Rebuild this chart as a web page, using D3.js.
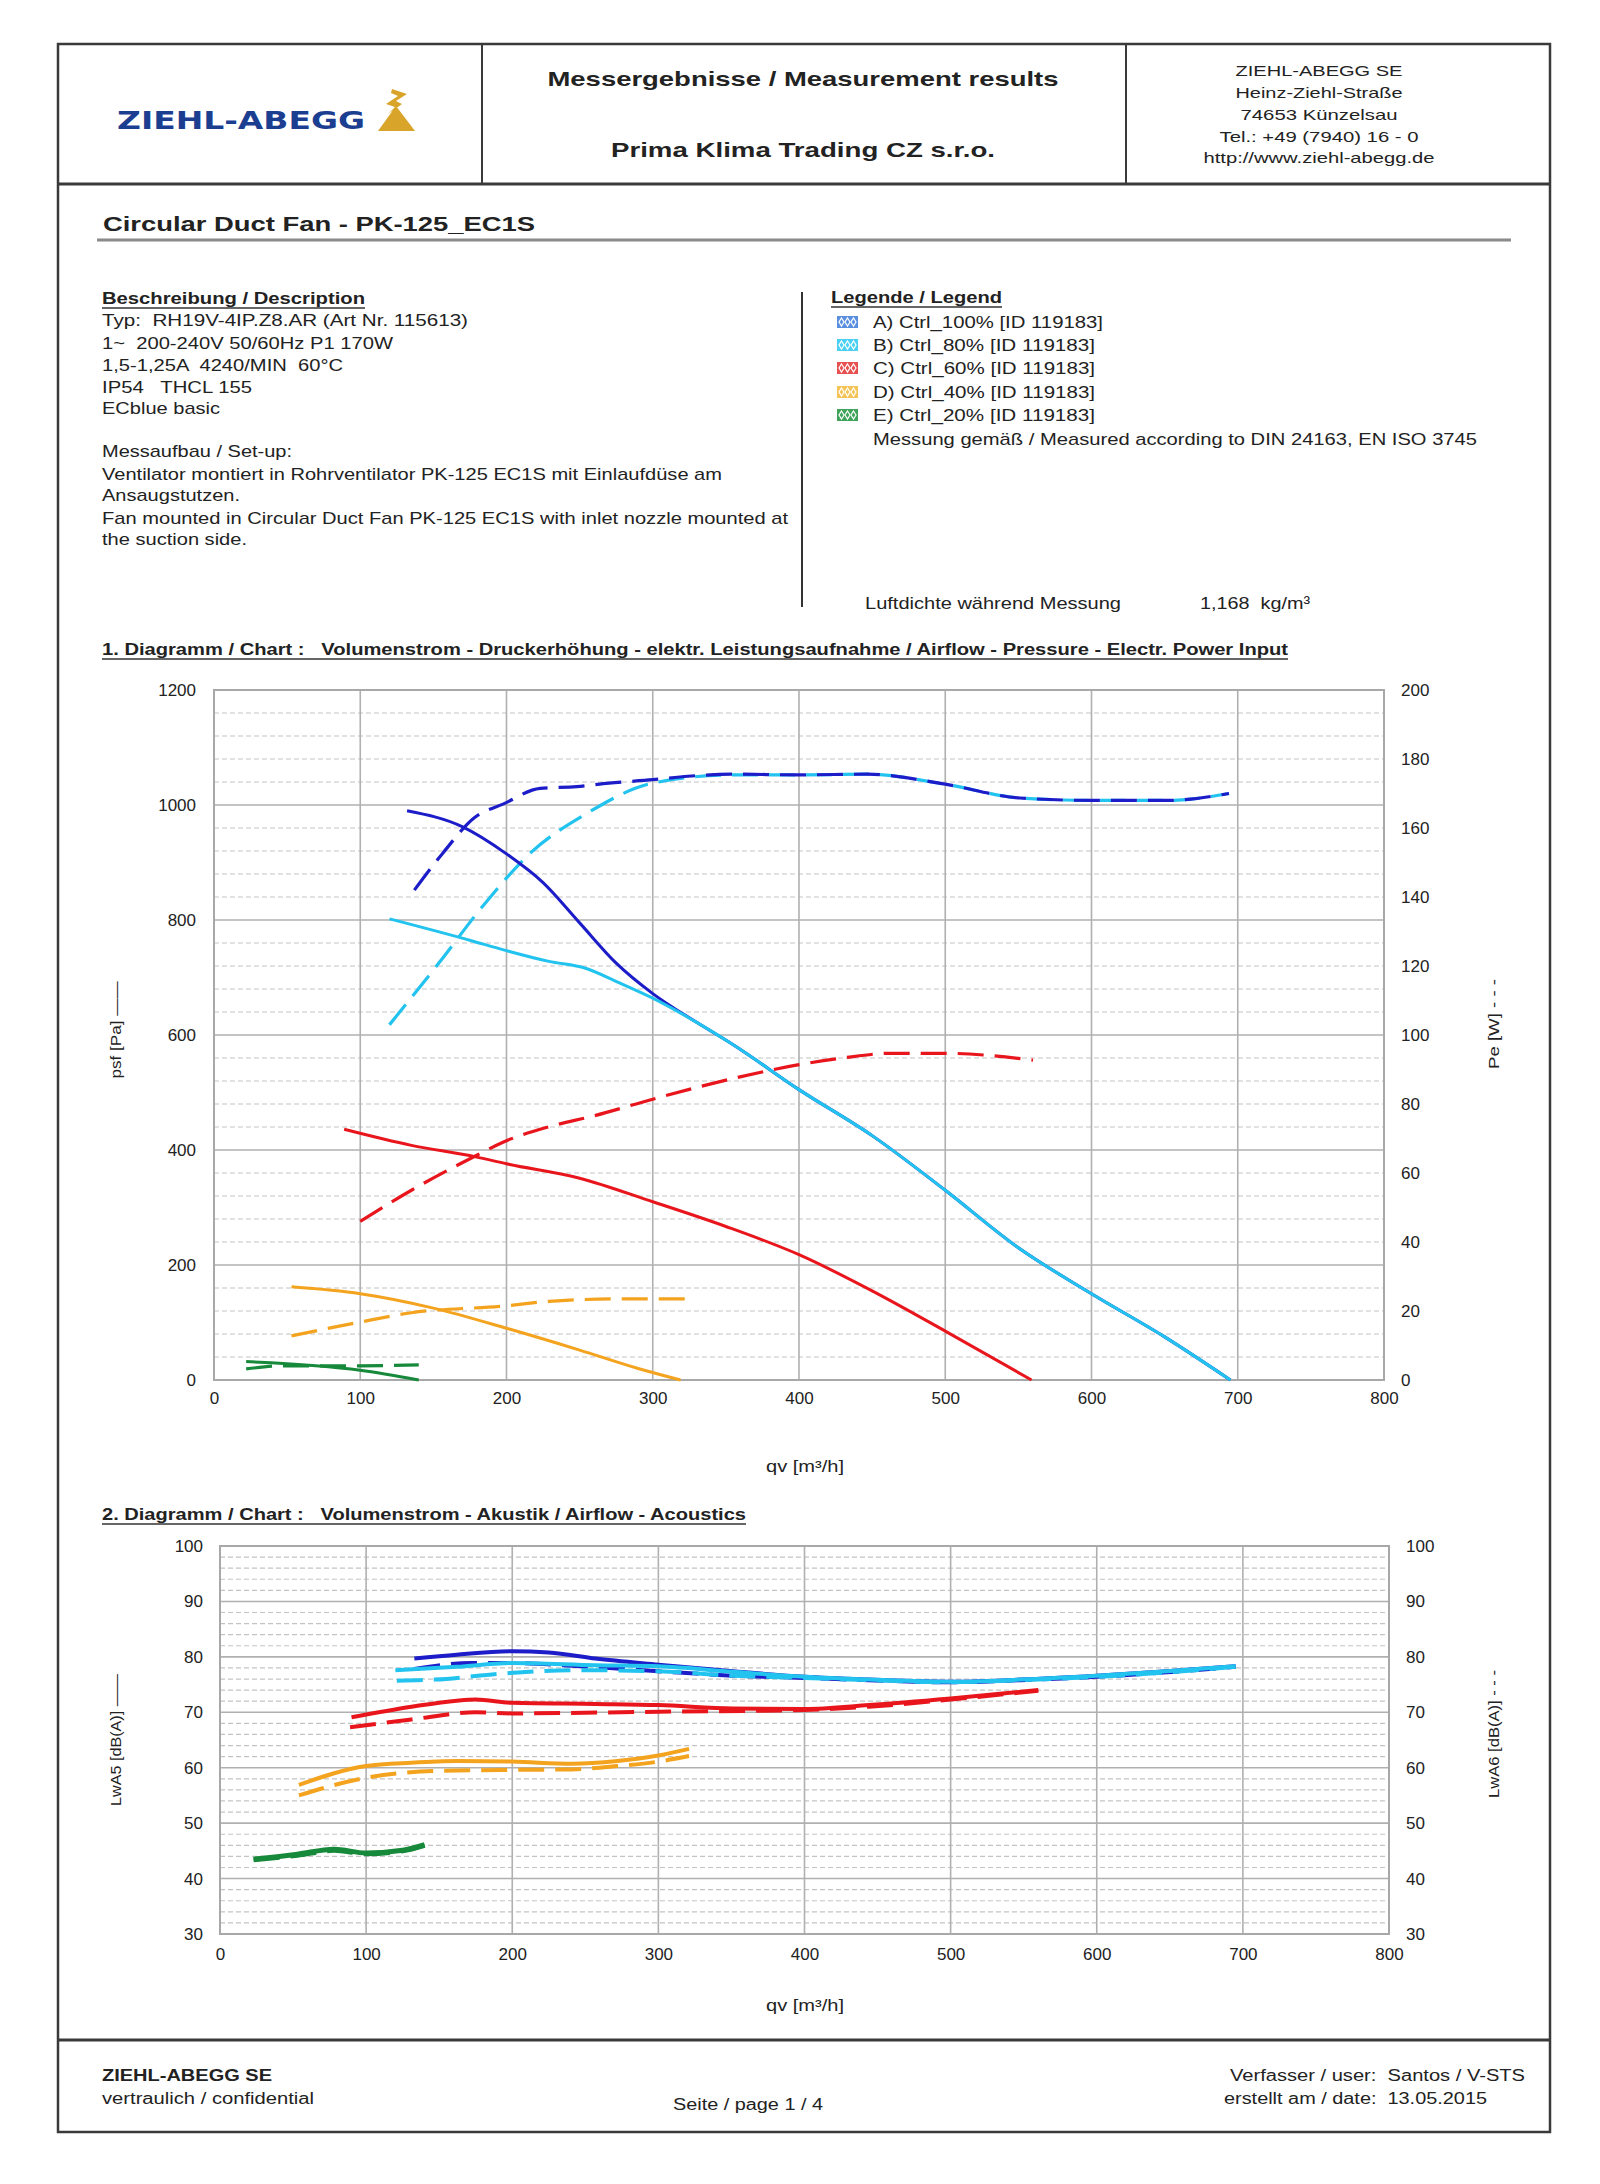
<!DOCTYPE html>
<html>
<head>
<meta charset="utf-8">
<script src="https://cdn.jsdelivr.net/npm/d3@7.9.0/dist/d3.min.js"></script>
<style>
  body { margin: 0; background: #fff; }
  svg text { font-family: "Liberation Sans", Arial, sans-serif; fill: #222; white-space: pre; }
</style>
</head>
<body>
<div id="page"></div>
<script>
// ---- series / legend ----
const seriesNames = ["A) Ctrl_100% [ID 119183]", "B) Ctrl_80% [ID 119183]", "C) Ctrl_60% [ID 119183]", "D) Ctrl_40% [ID 119183]", "E) Ctrl_20% [ID 119183]"];
const seriesColors = ["#1c1cc8", "#22c3ef", "#e8161c", "#f4a31f", "#17893a"];
const swatchColors = ["#5a8fe0", "#49d0f2", "#e65050", "#f5c456", "#3fa35a"];

// ---- chart 1: qv [m3/h] vs psf [Pa] (solid) ----
const psfA = [[132, 990], [170, 962], [200, 915], [225, 865], [250, 795], [275, 725], [300, 672], [330, 622], [355, 583], [400, 505], [450, 425], [500, 330], [550, 230], [600, 150], [650, 75], [695, 0]];
const psfB = [[120, 802], [176, 764], [198, 748], [229, 728], [254, 716], [276, 692], [300, 664], [330, 622], [355, 583], [400, 505], [450, 425], [500, 330], [550, 230], [600, 150], [650, 75], [695, 0]];
const psfC = [[89, 436], [135, 408], [179, 388], [200, 376], [250, 351], [300, 310], [350, 267], [400, 218], [450, 155], [500, 85], [559, 0]];
const psfD = [[53, 162], [100, 150], [150, 125], [200, 90], [250, 52], [290, 20], [319, 0]];
const psfE = [[22, 32], [100, 17], [140, 0]];

// ---- chart 1: qv vs Pe [W] (dashed, right axis) ----
const peA = [[137, 142], [157, 153], [178, 163], [198, 167], [223, 171.5], [248, 172], [270, 173], [300, 174], [324, 175], [355, 175.6], [400, 175.4], [447, 175.6], [500, 172.7], [551, 168.7], [600, 168], [652, 168], [694, 170]];
const peB = [[120, 103], [154, 121], [185, 138], [217, 153], [254, 164], [300, 173], [355, 175.4], [400, 175.4], [447, 175.6], [500, 172.7], [551, 168.7], [600, 168], [652, 168], [694, 170]];
const peC = [[100, 46], [135, 55], [179, 65], [198, 69], [229, 73.4], [261, 76.7], [300, 81.4], [355, 87.4], [400, 91.4], [431, 93.4], [463, 94.7], [500, 94.7], [532, 94], [560, 92.7]];
const peD = [[53, 12.8], [100, 16.8], [135, 19.5], [200, 21.5], [229, 22.8], [276, 23.5], [322, 23.5]];
const peE = [[22, 3.2], [47, 4.1], [100, 4.1], [140, 4.4]];

// ---- chart 2: qv vs LwA5 (solid) / LwA6 (dashed) [dB(A)] ----
const lwa5A = [[133, 79.7], [162, 80.4], [200, 81.0], [225, 80.8], [257, 79.7], [300, 78.6], [351, 77.4], [400, 76.4], [444, 75.9], [500, 75.5], [548, 75.9], [600, 76.6], [648, 77.4], [695, 78.3]];
const lwa5B = [[120, 77.6], [162, 78.2], [200, 78.9], [257, 78.5], [300, 78.3], [351, 77.3], [400, 76.4], [444, 75.9], [500, 75.5], [548, 75.9], [600, 76.6], [648, 77.4], [695, 78.3]];
const lwa5C = [[90, 69.1], [131, 71.0], [162, 72.1], [175, 72.3], [200, 71.7], [257, 71.5], [300, 71.3], [351, 70.7], [400, 70.6], [444, 71.3], [500, 72.5], [560, 74.0]];
const lwa5D = [[54, 56.9], [100, 60.3], [131, 60.9], [162, 61.2], [200, 61.1], [241, 60.7], [272, 61.2], [300, 62.2], [321, 63.4]];
const lwa5E = [[23, 43.5], [53, 44.4], [78, 45.3], [100, 44.6], [125, 45.1], [140, 46.1]];
const lwa6A = [[133, 77.8], [172, 78.9], [200, 78.9], [241, 78.4], [300, 77.4], [351, 76.6], [400, 76.2], [444, 75.8], [500, 75.4], [548, 75.8], [600, 76.4], [648, 77.2], [695, 78.2]];
const lwa6B = [[121, 75.7], [147, 75.9], [194, 77.0], [241, 77.6], [300, 77.4], [351, 76.6], [400, 76.2], [444, 75.8], [500, 75.4], [548, 75.8], [600, 76.4], [648, 77.2], [695, 78.2]];
const lwa6C = [[89, 67.3], [131, 68.7], [175, 70.0], [200, 69.8], [300, 70.1], [400, 70.4], [444, 71.0], [500, 72.3], [560, 73.9]];
const lwa6D = [[54, 55.0], [100, 58.2], [147, 59.4], [200, 59.6], [241, 59.7], [272, 60.3], [300, 61.1], [321, 62.1]];
const lwa6E = [[23, 43.4], [53, 44.2], [78, 45.1], [100, 44.5], [125, 45.0], [140, 46.0]];

// tick values
const qvTicks = [0, 100, 200, 300, 400, 500, 600, 700, 800];
const psfTicks = [0, 200, 400, 600, 800, 1000, 1200];
const peTicks = [0, 20, 40, 60, 80, 100, 120, 140, 160, 180, 200];
const lwaTicks = [30, 40, 50, 60, 70, 80, 90, 100];

const svg = d3.select("#page").append("svg")
  .attr("width", 1600).attr("height", 2184);

// text helper: w = target width (stretches glyphs like the scanned sheet)
function txt(x, y, s, o = {}) {
  const t = svg.append("text")
    .attr("x", x).attr("y", y)
    .attr("text-anchor", o.anchor || "start")
    .style("font-size", (o.size || 17) + "px")
    .text(s);
  if (o.bold) t.style("font-weight", "bold");
  if (o.fill) t.style("fill", o.fill);
  if (o.family) t.style("font-family", o.family);
  if (o.w) t.attr("textLength", o.w).attr("lengthAdjust", "spacingAndGlyphs");
  if (o.underline) {
    svg.append("line").attr("x1", x).attr("x2", x + o.w)
      .attr("y1", y + 4).attr("y2", y + 4)
      .attr("stroke", "#333").attr("stroke-width", 1.5);
  }
  return t;
}

// ---- page frame ----
const frame = svg.append("g").attr("fill", "none").attr("stroke", "#3a3a3a");
frame.append("rect").attr("x", 58).attr("y", 44).attr("width", 1492).attr("height", 2088).attr("stroke-width", 2.5);
frame.append("line").attr("x1", 58).attr("x2", 1550).attr("y1", 184).attr("y2", 184).attr("stroke-width", 3);
frame.append("line").attr("x1", 482).attr("x2", 482).attr("y1", 44).attr("y2", 184).attr("stroke-width", 2);
frame.append("line").attr("x1", 1126).attr("x2", 1126).attr("y1", 44).attr("y2", 184).attr("stroke-width", 2);
frame.append("line").attr("x1", 58).attr("x2", 1550).attr("y1", 2040).attr("y2", 2040).attr("stroke-width", 3);

// ---- header ----
txt(117, 129, "ZIEHL-ABEGG", { size: 24, bold: true, w: 248, fill: "#1b3e91", family: "'DejaVu Sans', sans-serif" });
const gold = svg.append("g").attr("fill", "#d8a52a");
gold.append("path").attr("d", "M378,131 L396,106 L415,131 Z");
gold.append("path").attr("d", "M392,89 L407,94 L396,101 L402,104 L388,114 L395,107 L386,104 L398,96 L391,93 Z");

txt(803, 86, "Messergebnisse / Measurement results", { anchor: "middle", size: 21, bold: true, w: 511 });
txt(803, 157, "Prima Klima Trading CZ s.r.o.", { anchor: "middle", size: 21, bold: true, w: 384 });

const addr = [["ZIEHL-ABEGG SE", 167, 76], ["Heinz-Ziehl-Straße", 167, 98], ["74653 Künzelsau", 157, 120], ["Tel.: +49 (7940) 16 - 0", 199, 142], ["http://www.ziehl-abegg.de", 231, 163]];
addr.forEach(a => txt(1319, a[2], a[0], { anchor: "middle", size: 15, w: a[1] }));

txt(103, 231, "Circular Duct Fan - PK-125_EC1S", { size: 21, bold: true, w: 432 });
svg.append("line").attr("x1", 97).attr("x2", 1511).attr("y1", 240).attr("y2", 240)
  .attr("stroke", "#8a8a8a").attr("stroke-width", 3);

// ---- description ----
txt(102, 304, "Beschreibung / Description", { size: 16, bold: true, w: 263, underline: true });
const descLines = [
  ["Typ:  RH19V-4IP.Z8.AR (Art Nr. 115613)", 326, 366],
  ["1~  200-240V 50/60Hz P1 170W", 349, 291],
  ["1,5-1,25A  4240/MIN  60°C", 371, 241],
  ["IP54   THCL 155", 393, 150],
  ["ECblue basic", 414, 118],
  ["Messaufbau / Set-up:", 457, 190],
  ["Ventilator montiert in Rohrventilator PK-125 EC1S mit Einlaufdüse am", 480, 620],
  ["Ansaugstutzen.", 501, 138],
  ["Fan mounted in Circular Duct Fan PK-125 EC1S with inlet nozzle mounted at", 524, 686],
  ["the suction side.", 545, 145]
];
descLines.forEach(l => txt(102, l[1], l[0], { size: 17, w: l[2] }));

svg.append("line").attr("x1", 802).attr("x2", 802).attr("y1", 292).attr("y2", 607)
  .attr("stroke", "#333").attr("stroke-width", 2);

// ---- legend ----
txt(831, 303, "Legende / Legend", { size: 16, bold: true, w: 171, underline: true });
const legendY = [322, 345, 368, 392, 415];
const legendW = [230, 222, 222, 222, 222];
seriesNames.forEach((n, i) => {
  const cy = legendY[i];
  svg.append("rect").attr("x", 837).attr("y", cy - 6).attr("width", 21).attr("height", 12)
    .attr("fill", swatchColors[i]);
  [841.5, 847.5, 853.5].forEach(cx => {
    svg.append("path")
      .attr("d", `M${cx},${cy - 4} L${cx + 2.5},${cy} L${cx},${cy + 4} L${cx - 2.5},${cy} Z`)
      .attr("fill", "none").attr("stroke", "#fff").attr("stroke-width", 1.2);
  });
  txt(873, cy + 6, n, { size: 17, w: legendW[i] });
});
txt(873, 445, "Messung gemäß / Measured according to DIN 24163, EN ISO 3745", { size: 17, w: 604 });
txt(865, 609, "Luftdichte während Messung", { size: 17, w: 256 });
txt(1200, 609, "1,168  kg/m³", { size: 17, w: 110 });

// ---- chart helpers ----
function grid(x, y, minor, major) {
  const g = svg.append("g");
  const [y0, y1] = y.domain();
  d3.range(y0, y1 + 0.001, minor).forEach(v => {
    const isMajor = Math.abs((v - y0) % major) < 1e-6;
    if (isMajor) return;
    g.append("line").attr("x1", x.range()[0]).attr("x2", x.range()[1])
      .attr("y1", y(v)).attr("y2", y(v))
      .attr("stroke", "#c4c4c4").attr("stroke-width", 1.2).attr("stroke-dasharray", "5,3");
  });
  d3.range(y0, y1 + 0.001, major).forEach(v => {
    g.append("line").attr("x1", x.range()[0]).attr("x2", x.range()[1])
      .attr("y1", y(v)).attr("y2", y(v))
      .attr("stroke", "#b0b0b0").attr("stroke-width", 1.6);
  });
  qvTicks.forEach(v => {
    g.append("line").attr("x1", x(v)).attr("x2", x(v))
      .attr("y1", y.range()[0]).attr("y2", y.range()[1])
      .attr("stroke", "#b0b0b0").attr("stroke-width", 1.6);
  });
  g.append("rect").attr("x", x.range()[0]).attr("y", y.range()[1])
    .attr("width", x.range()[1] - x.range()[0]).attr("height", y.range()[0] - y.range()[1])
    .attr("fill", "none").attr("stroke", "#a8a8a8").attr("stroke-width", 2);
}

function styleAxis(g) {
  g.select(".domain").remove();
  g.selectAll(".tick line").remove();
  g.selectAll("text").style("font-size", "17px")
    .style("font-family", "'Liberation Sans', Arial, sans-serif").attr("fill", "#222");
}

function curve(x, y, pts, color, dashed, width) {
  const line = d3.line().x(d => x(d[0])).y(d => y(d[1])).curve(d3.curveMonotoneX);
  svg.append("path").datum(pts).attr("d", line)
    .attr("fill", "none").attr("stroke", color).attr("stroke-width", width)
    .attr("stroke-linecap", "butt")
    .attr("stroke-dasharray", dashed ? "26,11" : null);
}

const fmt = d3.format("d");

// ---- chart 1 ----
txt(102, 655, "1. Diagramm / Chart :   Volumenstrom - Druckerhöhung - elektr. Leistungsaufnahme / Airflow - Pressure - Electr. Power Input", { size: 16, bold: true, w: 1186, underline: true });

const x1 = d3.scaleLinear([0, 800], [214, 1384]);
const yP = d3.scaleLinear([0, 1200], [1380, 690]);
const yW = d3.scaleLinear([0, 200], [1380, 690]);
grid(x1, yP, 40, 200);

svg.append("g").attr("transform", "translate(214,0)")
  .call(d3.axisLeft(yP).tickValues(psfTicks).tickFormat(fmt).tickSize(0).tickPadding(18)).call(styleAxis);
svg.append("g").attr("transform", "translate(1384,0)")
  .call(d3.axisRight(yW).tickValues(peTicks).tickFormat(fmt).tickSize(0).tickPadding(17)).call(styleAxis);
svg.append("g").attr("transform", "translate(0,1380)")
  .call(d3.axisBottom(x1).tickValues(qvTicks).tickFormat(fmt).tickSize(0).tickPadding(12)).call(styleAxis);

txt(805, 1472, "qv [m³/h]", { anchor: "middle", size: 16, w: 78 });
txt(0, 0, "psf [Pa] ——", { anchor: "middle", size: 15, w: 97 })
  .attr("transform", "translate(121,1030) rotate(-90)");
txt(0, 0, "Pe [W] - - -", { anchor: "middle", size: 15, w: 90 })
  .attr("transform", "translate(1499,1024) rotate(-90)");

const psfSeries = [psfA, psfB, psfC, psfD, psfE];
const peSeries = [peA, peB, peC, peD, peE];
[4, 3, 2, 1, 0].forEach(i => curve(x1, yW, peSeries[i], seriesColors[i], true, 3.2));
[4, 3, 2, 0, 1].forEach(i => curve(x1, yP, psfSeries[i], seriesColors[i], false, 3));

// ---- chart 2 ----
txt(102, 1520, "2. Diagramm / Chart :   Volumenstrom - Akustik / Airflow - Acoustics", { size: 16, bold: true, w: 644, underline: true });

const x2 = d3.scaleLinear([0, 800], [220, 1389]);
const yL = d3.scaleLinear([30, 100], [1934, 1546]);
const yR = d3.scaleLinear([30, 100], [1934, 1546]);
grid(x2, yL, 2, 10);

svg.append("g").attr("transform", "translate(220,0)")
  .call(d3.axisLeft(yL).tickValues(lwaTicks).tickFormat(fmt).tickSize(0).tickPadding(17)).call(styleAxis);
svg.append("g").attr("transform", "translate(1389,0)")
  .call(d3.axisRight(yR).tickValues(lwaTicks).tickFormat(fmt).tickSize(0).tickPadding(17)).call(styleAxis);
svg.append("g").attr("transform", "translate(0,1934)")
  .call(d3.axisBottom(x2).tickValues(qvTicks).tickFormat(fmt).tickSize(0).tickPadding(14)).call(styleAxis);

txt(805, 2011, "qv [m³/h]", { anchor: "middle", size: 16, w: 78 });
txt(0, 0, "LwA5 [dB(A)] ——", { anchor: "middle", size: 15, w: 132 })
  .attr("transform", "translate(121,1740) rotate(-90)");
txt(0, 0, "LwA6 [dB(A)] - - -", { anchor: "middle", size: 15, w: 128 })
  .attr("transform", "translate(1499,1734) rotate(-90)");

const lwa5Series = [lwa5A, lwa5B, lwa5C, lwa5D, lwa5E];
const lwa6Series = [lwa6A, lwa6B, lwa6C, lwa6D, lwa6E];
[4, 3, 2, 0, 1].forEach(i => {
  curve(x2, yL, lwa5Series[i], seriesColors[i], false, i === 4 ? 5 : 4);
  curve(x2, yR, lwa6Series[i], seriesColors[i], true, i === 4 ? 5 : 4);
});

// ---- footer ----
txt(102, 2081, "ZIEHL-ABEGG SE", { size: 16, bold: true, w: 170 });
txt(102, 2104, "vertraulich / confidential", { size: 16, w: 212 });
txt(748, 2110, "Seite / page 1 / 4", { anchor: "middle", size: 16, w: 150 });
txt(1230, 2081, "Verfasser / user:  Santos / V-STS", { size: 16, w: 295 });
txt(1224, 2104, "erstellt am / date:  13.05.2015", { size: 16, w: 263 });
</script>
</body>
</html>
